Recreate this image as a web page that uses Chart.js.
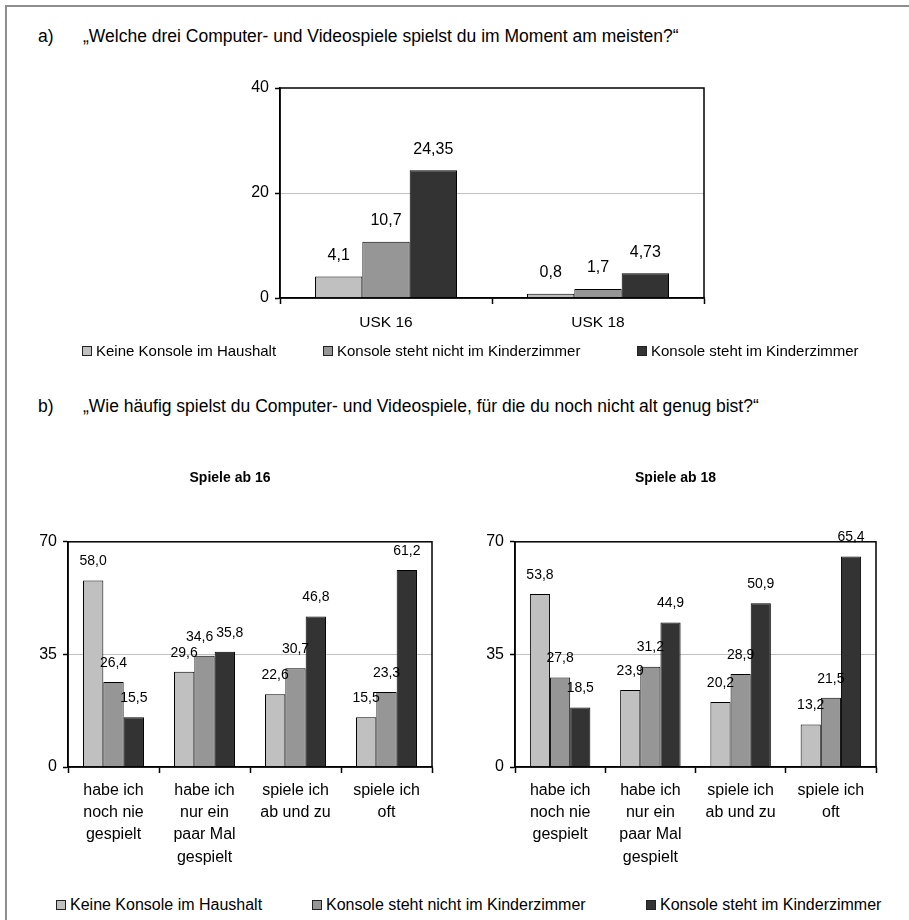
<!DOCTYPE html>
<html lang="de">
<head>
<meta charset="utf-8">
<title>Computer- und Videospiele</title>
<script src="https://cdn.jsdelivr.net/npm/chart.js@4.4.1/dist/chart.umd.min.js"></script>
<style>
  html, body { margin: 0; padding: 0; background: #fff; }
  #page { position: relative; width: 909px; height: 920px; overflow: hidden; background: #fff;
          font-family: "Liberation Sans", Arial, sans-serif; color: #000; }
  #frame { position: absolute; left: 5px; top: 5px; right: -10px; bottom: -10px;
           border-left: 2px solid #8e8e8e; border-top: 2px solid #8e8e8e; }
  .head { position: absolute; font-size: 17.5px; line-height: 20px; white-space: nowrap; }
  canvas { position: absolute; }
  .legend-item { position: absolute; display: flex; align-items: center;
                 line-height: 18px; white-space: nowrap; }
  .legend-item .box { width: 8px; height: 8px; border: 1px solid #222; margin-right: 4px; }
</style>
</head>
<body>
<div id="page">
  <div id="frame"></div>
  <div class="head" style="left:38px;top:26px">a)</div>
  <div class="head" style="left:83px;top:26px">„Welche drei Computer- und Videospiele spielst du im Moment am meisten?“</div>
  <div class="head" style="left:38px;top:396px">b)</div>
  <div class="head" style="left:83px;top:396px">„Wie häufig spielst du Computer- und Videospiele, für die du noch nicht alt genug bist?“</div>

  <canvas id="chartA" width="540" height="290" style="left:200px;top:60px"></canvas>
  <canvas id="chartB16" width="450" height="412" style="left:0px;top:455px"></canvas>
  <canvas id="chartB18" width="450" height="412" style="left:450px;top:455px"></canvas>

  <div id="legendA"></div>
  <div id="legendB"></div>
</div>

<script>
// Series shared by all three charts
const seriesNames = ['Keine Konsole im Haushalt', 'Konsole steht nicht im Kinderzimmer', 'Konsole steht im Kinderzimmer'];
const seriesColors = ['#c0c0c0', '#969696', '#333333'];

// a) Meistgespielte Spiele nach Altersfreigabe
const uskCategories = ['USK 16', 'USK 18'];
const uskKeineKonsole = [4.1, 0.8];
const uskNichtKinderzimmer = [10.7, 1.7];
const uskKinderzimmer = [24.35, 4.73];
const uskTicks = [0, 20, 40];

// b) Häufigkeit des Spielens nicht altersgerechter Spiele
const haeufigkeit = [
  ['habe ich', 'noch nie', 'gespielt'],
  ['habe ich', 'nur ein', 'paar Mal', 'gespielt'],
  ['spiele ich', 'ab und zu'],
  ['spiele ich', 'oft']
];
const ab16KeineKonsole = [58.0, 29.6, 22.6, 15.5];
const ab16NichtKinderzimmer = [26.4, 34.6, 30.7, 23.3];
const ab16Kinderzimmer = [15.5, 35.8, 46.8, 61.2];
const ab18KeineKonsole = [53.8, 23.9, 20.2, 13.2];
const ab18NichtKinderzimmer = [27.8, 31.2, 28.9, 21.5];
const ab18Kinderzimmer = [18.5, 44.9, 50.9, 65.4];
const haeufigkeitTicks = [0, 35, 70];

const FONT = '"Liberation Sans", Arial, sans-serif';
Chart.defaults.font.family = FONT;
Chart.defaults.color = '#000';

// Black frame round the plot area
const plotFrame = {
  id: 'plotFrame',
  afterDatasetsDraw(chart) {
    const a = chart.chartArea, c = chart.ctx;
    c.save();
    c.strokeStyle = '#000';
    c.lineWidth = 1.5;
    c.strokeRect(a.left, a.top, a.right - a.left, a.bottom - a.top);
    c.restore();
  }
};

// Value written above each bar; neighbouring labels in a group are pushed apart if they collide
const valueLabels = {
  id: 'valueLabels',
  afterDatasetsDraw(chart, args, opts) {
    const ctx = chart.ctx;
    ctx.save();
    ctx.font = opts.size + 'px ' + FONT;
    ctx.fillStyle = '#000';
    ctx.textAlign = 'center';
    ctx.textBaseline = 'middle';
    const n = chart.data.labels.length;
    for (let i = 0; i < n; i++) {
      const items = chart.data.datasets.map((ds, d) => {
        const el = chart.getDatasetMeta(d).data[i];
        const txt = opts.format(ds.data[i]);
        return { x: el.x, y: el.y - opts.offset, w: ctx.measureText(txt).width, txt };
      });
      for (let k = 1; k < items.length; k++) {
        const a = items[k - 1], b = items[k];
        if (Math.abs(a.y - b.y) < opts.size) {
          const overlap = (a.x + a.w / 2) - (b.x - b.w / 2) + 3;
          if (overlap > 0) { a.x -= overlap / 2; b.x += overlap / 2; }
        }
      }
      items.forEach(it => ctx.fillText(it.txt, it.x, it.y));
    }
    ctx.restore();
  }
};

function buildChart(id, cfg) {
  const mid = cfg.ticks[1];
  return new Chart(document.getElementById(id), {
    type: 'bar',
    data: {
      labels: cfg.labels,
      datasets: cfg.series.map((d, k) => ({
        label: seriesNames[k],
        data: d,
        backgroundColor: seriesColors[k],
        borderColor: '#000',
        borderWidth: 1,
        categoryPercentage: 0.67,
        barPercentage: 1
      }))
    },
    options: {
      responsive: false,
      animation: false,
      events: [],
      devicePixelRatio: 1,
      layout: { padding: cfg.padding },
      plugins: {
        legend: { display: false },
        tooltip: { enabled: false },
        title: cfg.title ? {
          display: true, text: cfg.title, color: '#000',
          font: { size: 14, weight: 'bold', family: FONT },
          padding: { top: 15, bottom: 55 }
        } : { display: false },
        valueLabels: { size: cfg.labelSize, offset: cfg.labelOffset, format: cfg.format }
      },
      scales: {
        x: {
          grid: { offset: true, drawOnChartArea: false, tickLength: 6, tickColor: '#000', tickWidth: 1.5 },
          border: { color: '#000', width: 1.5 },
          ticks: { color: '#000', font: { size: cfg.xFont, family: FONT, lineHeight: cfg.xLineHeight },
                   padding: cfg.xPad, maxRotation: 0, minRotation: 0, autoSkip: false },
          afterFit: s => { s.height = cfg.xHeight; }
        },
        y: {
          min: cfg.ticks[0],
          max: cfg.ticks[cfg.ticks.length - 1],
          afterBuildTicks: s => { s.ticks = cfg.ticks.map(v => ({ value: v })); },
          grid: {
            color: c => (c.tick && c.tick.value === mid) ? '#c0c0c0' : 'rgba(0,0,0,0)',
            tickColor: '#000', tickLength: 5, tickWidth: 1.5, lineWidth: 1
          },
          border: { color: '#000', width: 1.5 },
          ticks: { color: '#000', font: { size: 16, family: FONT }, padding: 6 },
          afterFit: s => { s.width = cfg.yWidth; }
        }
      }
    },
    plugins: [plotFrame, valueLabels]
  });
}

const commaFree = v => String(v).replace('.', ',');
const commaOne = v => v.toFixed(1).replace('.', ',');

buildChart('chartA', {
  labels: uskCategories,
  series: [uskKeineKonsole, uskNichtKinderzimmer, uskKinderzimmer],
  ticks: uskTicks,
  padding: { left: 30, right: 36, top: 28, bottom: 12 },
  yWidth: 50, xHeight: 40, xFont: 15.5, xLineHeight: 1.2, xPad: 9,
  labelSize: 16, labelOffset: 21, format: commaFree
});

const bottomCommon = {
  labels: haeufigkeit, ticks: haeufigkeitTicks,
  yWidth: 40, xHeight: 100, xFont: 16, xLineHeight: 1.4, xPad: 6,
  labelSize: 14, labelOffset: 19, format: commaOne
};
buildChart('chartB16', Object.assign({}, bottomCommon, {
  title: 'Spiele ab 16',
  series: [ab16KeineKonsole, ab16NichtKinderzimmer, ab16Kinderzimmer],
  padding: { left: 28, right: 18, top: 0, bottom: 0 }
}));
buildChart('chartB18', Object.assign({}, bottomCommon, {
  title: 'Spiele ab 18',
  series: [ab18KeineKonsole, ab18NichtKinderzimmer, ab18Kinderzimmer],
  padding: { left: 25, right: 24, top: 0, bottom: 0 }
}));

// HTML legends built from the series names and colours
function buildLegend(id, top, size, lefts) {
  const host = document.getElementById(id);
  seriesNames.forEach((name, k) => {
    const item = document.createElement('div');
    item.className = 'legend-item';
    item.style.left = lefts[k] + 'px';
    item.style.top = top + 'px';
    item.style.fontSize = size + 'px';
    const box = document.createElement('span');
    box.className = 'box';
    box.style.background = seriesColors[k];
    const txt = document.createElement('span');
    txt.textContent = name;
    item.appendChild(box);
    item.appendChild(txt);
    host.appendChild(item);
  });
}
buildLegend('legendA', 342, 15, [82, 323, 637]);
buildLegend('legendB', 896, 16, [56, 312, 646]);
</script>
</body>
</html>
